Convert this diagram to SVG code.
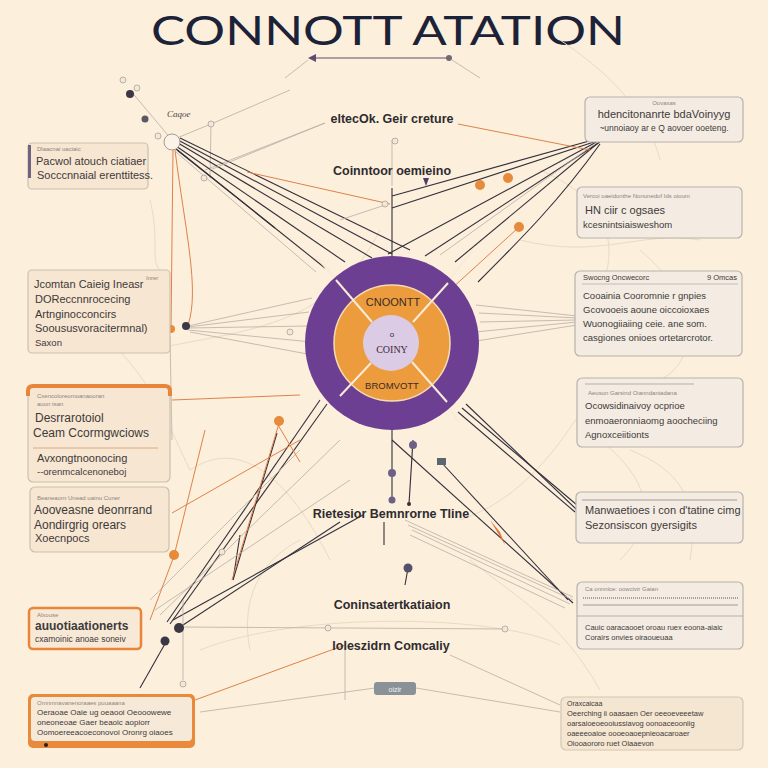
<svg xmlns="http://www.w3.org/2000/svg" width="768" height="768" viewBox="0 0 768 768">
<defs>
<style>
.bgc{fill:none;stroke:#e9dbc4;stroke-width:1}
.dk{fill:none;stroke:#33303c;stroke-width:1.1}
.gr{fill:none;stroke:#b7aea4;stroke-width:0.8}
.or{fill:none;stroke:#e0804a;stroke-width:1}
.lb{fill:#f7e6d1;stroke:#cdbfae;stroke-width:1.2}
.rb{fill:#f4ece2;stroke:#b8b2aa;stroke-width:1.2}
.t{font-family:"Liberation Sans",Arial,sans-serif;fill:#3d3a3a}
.tiny{font-size:6px;fill:#8a8580}
.s{font-size:9.5px}
.m{font-size:11px}
.c{font-family:"Liberation Sans",Arial,sans-serif;font-size:12.5px;font-weight:bold;fill:#2e2b2f;text-anchor:middle}
.dot{fill:#3a3845}
.odot{fill:#e68a3c}
.gdot{fill:#f3e8d8;stroke:#a9a29a;stroke-width:0.8}
</style>
</defs>
<rect width="768" height="768" fill="#fcefdc"/>

<text x="388" y="45" text-anchor="middle" font-family="Lato,'Liberation Sans',sans-serif" font-weight="400" font-size="40" fill="#1c2238" textLength="474" lengthAdjust="spacingAndGlyphs">CONNOTT ATATION</text>

<g id="connectors">
<path class="bgc" d="M150,350 C240,330 330,330 380,230"/>
<path class="bgc" d="M460,520 C520,500 560,450 600,380"/>
<path class="bgc" d="M190,470 C250,430 300,500 330,560"/>
<path class="bgc" d="M540,170 C610,200 630,250 585,320"/>
<path class="bgc" d="M600,440 C650,480 660,520 620,560"/>
<path class="bgc" d="M200,650 C300,610 500,615 560,645"/>
<path class="bgc" d="M95,330 C150,370 170,430 190,470"/>
<path class="bgc" d="M640,250 C700,300 700,360 660,380"/>
<path class="bgc" d="M520,240 C600,260 640,230 700,240"/>
<path class="bgc" d="M250,650 C240,600 260,560 300,540"/>
<path class="bgc" d="M470,560 C520,600 560,620 600,690"/>
<path class="bgc" d="M560,40 C620,80 650,120 660,160"/>
<path class="bgc" d="M150,200 C160,240 150,260 160,270"/>
<path class="bgc" d="M630,450 C680,470 700,500 690,560"/>
<line x1="312" y1="58" x2="449" y2="58" stroke="#5a4e6e" stroke-width="1.2"/>
<polygon points="308,58 316,54 316,62" fill="#5a4e6e"/>
<circle cx="449" cy="58" r="3" fill="#6e6a72"/>
<line class="gr" x1="308" y1="60" x2="285" y2="78"/>
<line class="gr" x1="452" y1="60" x2="480" y2="78"/>
<line class="gr" x1="130" y1="90" x2="172" y2="140"/>
<line class="gr" x1="172" y1="140" x2="211" y2="124"/>
<line class="gr" x1="211" y1="124" x2="290" y2="90"/>
<line class="gr" x1="205" y1="170" x2="325" y2="123"/>
<line class="gr" x1="211" y1="124" x2="210" y2="178"/>
<line class="dk" x1="178" y1="140" x2="392" y2="254"/>
<line class="dk" x1="178" y1="143" x2="372" y2="258"/>
<line class="dk" x1="176" y1="146" x2="345" y2="262"/>
<line class="dk" x1="175" y1="148" x2="325" y2="268"/>
<line class="dk" x1="177" y1="150" x2="275" y2="228"/>
<line class="dk" x1="180" y1="138" x2="410" y2="250"/>
<line class="gr" x1="176" y1="152" x2="316" y2="272"/>
<line class="or" x1="247" y1="172" x2="390" y2="204"/>
<line class="dk" x1="600" y1="138" x2="392" y2="196"/>
<line class="dk" x1="600" y1="140" x2="392" y2="208"/>
<line class="dk" x1="602" y1="139" x2="388" y2="254"/>
<line class="dk" x1="600" y1="142" x2="425" y2="256"/>
<line class="dk" x1="598" y1="143" x2="455" y2="262"/>
<path class="dk" d="M600,144 C560,200 520,240 478,282"/>
<line class="gr" x1="603" y1="138" x2="440" y2="255"/>
<line class="or" x1="458" y1="124" x2="590" y2="150"/>
<line class="or" x1="518" y1="228" x2="450" y2="290"/>
<line class="gr" x1="325" y1="123" x2="210" y2="170"/>
<line x1="392" y1="188" x2="392" y2="256" stroke="#33303c" stroke-width="1.1"/>
<line class="gr" x1="392" y1="140" x2="392" y2="186"/>
<circle class="gdot" cx="395" cy="141" r="3"/>
<line class="gr" x1="385" y1="205" x2="340" y2="220"/>
<circle class="gdot" cx="385" cy="204" r="3"/>
<path class="or" d="M173,150 L171,330"/>
<path class="or" d="M175,150 C185,230 200,290 188,325"/>
<line class="gr" x1="188" y1="326" x2="312" y2="298"/>
<line class="gr" x1="188" y1="327" x2="309" y2="312"/>
<line class="gr" x1="188" y1="328" x2="308" y2="326"/>
<line class="gr" x1="188" y1="330" x2="312" y2="342"/>
<line class="gr" x1="190" y1="332" x2="318" y2="356"/>
<line class="gr" x1="170" y1="336" x2="172" y2="440"/>
<line class="gr" x1="476" y1="305" x2="577" y2="316"/>
<line class="gr" x1="479" y1="313" x2="577" y2="318"/>
<line class="gr" x1="480" y1="322" x2="577" y2="320"/>
<line class="gr" x1="475" y1="332" x2="577" y2="322"/>
<line class="gr" x1="470" y1="342" x2="577" y2="325"/>
<line class="dk" x1="392" y1="428" x2="392" y2="502"/>
<line class="dk" x1="413" y1="440" x2="409" y2="504"/>
<circle cx="392" cy="473" r="4" fill="#6e5f86"/>
<circle cx="392" cy="500" r="3.5" fill="#6e5f86"/>
<circle cx="413" cy="445" r="4" fill="#6e5f86"/>
<circle cx="409" cy="504" r="2" fill="#33303c"/>
<line class="dk" x1="384" y1="522" x2="384" y2="545"/>
<line class="dk" x1="320" y1="400" x2="167" y2="622"/>
<line class="dk" x1="327" y1="404" x2="170" y2="624"/>
<line class="dk" x1="277" y1="433" x2="233" y2="580"/>
<line class="dk" x1="233" y1="580" x2="240" y2="535"/>
<line class="dk" x1="363" y1="515" x2="173" y2="620"/>
<line class="dk" x1="340" y1="522" x2="180" y2="627"/>
<line class="gr" x1="350" y1="480" x2="155" y2="610"/>
<line class="gr" x1="300" y1="450" x2="150" y2="600"/>
<line class="gr" x1="340" y1="440" x2="160" y2="615"/>
<line class="or" x1="280" y1="420" x2="232" y2="580"/>
<line class="or" x1="278" y1="425" x2="300" y2="462"/>
<line class="or" x1="205" y1="430" x2="174" y2="556"/>
<line class="or" x1="172" y1="400" x2="300" y2="395"/>
<line class="or" x1="172" y1="513" x2="300" y2="440"/>
<line class="or" x1="174" y1="556" x2="150" y2="620"/>
<line class="dk" x1="166" y1="642" x2="140" y2="688"/>
<line class="gr" x1="183" y1="680" x2="183" y2="600"/>
<line class="dk" x1="462" y1="408" x2="577" y2="505"/>
<line class="dk" x1="466" y1="404" x2="577" y2="510"/>
<line class="dk" x1="458" y1="412" x2="575" y2="512"/>
<line class="dk" x1="392" y1="440" x2="573" y2="603"/>
<line class="dk" x1="441" y1="462" x2="568" y2="600"/>
<rect x="437" y="458" width="9" height="7" fill="#5d6670"/>
<polygon points="490,520 500,532 505,545" fill="#e07b3a"/>
<line class="gr" x1="405" y1="520" x2="573" y2="597"/>
<line class="gr" x1="408" y1="525" x2="573" y2="600"/>
<line class="gr" x1="412" y1="530" x2="570" y2="604"/>
<line class="gr" x1="410" y1="535" x2="565" y2="608"/>
<line class="dk" x1="408" y1="568" x2="405" y2="585"/>
<circle cx="408" cy="568" r="4.5" fill="#55516a"/>
<line class="gr" x1="180" y1="627" x2="507" y2="629"/>
<circle class="gdot" cx="328" cy="628" r="3"/>
<circle class="gdot" cx="505" cy="629" r="3"/>
<line class="or" x1="195" y1="700" x2="345" y2="645"/>
<line class="gr" x1="200" y1="712" x2="375" y2="688"/>
<line class="gr" x1="416" y1="688" x2="560" y2="712"/>
<line class="gr" x1="450" y1="655" x2="560" y2="705"/>
<line class="gr" x1="345" y1="640" x2="345" y2="700"/>
<line x1="315" y1="255" x2="372" y2="322" stroke="#f8ecd8" stroke-width="2"/>
<line x1="418" y1="368" x2="460" y2="423" stroke="#f8ecd8" stroke-width="2"/>
<line x1="473" y1="250" x2="415" y2="322" stroke="#f8ecd8" stroke-width="2"/>
<line x1="370" y1="363" x2="340" y2="395" stroke="#f8ecd8" stroke-width="2"/>
</g>

<g id="center">
<circle cx="392" cy="343" r="87" fill="#6c3f92"/>
<circle cx="392" cy="343" r="58" fill="#ec9c3c" stroke="#f6dcb0" stroke-width="1.5"/>
<circle cx="391" cy="343" r="28" fill="#dccbe4"/>
<line x1="336" y1="280" x2="372" y2="322" stroke="#f8ecd8" stroke-width="2"/>
<line x1="448" y1="283" x2="413" y2="322" stroke="#f8ecd8" stroke-width="2"/>
<line x1="412" y1="362" x2="447" y2="402" stroke="#f8ecd8" stroke-width="2"/>
<line x1="371" y1="363" x2="340" y2="396" stroke="#f8ecd8" stroke-width="2"/>
<text x="393" y="306" text-anchor="middle" font-family="'Liberation Sans',Arial,sans-serif" font-size="11" fill="#3a2a2a">CNOONTT</text>
<text x="392" y="337" text-anchor="middle" font-family="'Liberation Sans',Arial,sans-serif" font-size="8" fill="#3a2a3a">o</text>
<text x="392" y="353" text-anchor="middle" font-family="'Liberation Serif',serif" font-size="10" fill="#3a2a3a">COINY</text>
<text x="392" y="389" text-anchor="middle" font-family="'Liberation Sans',Arial,sans-serif" font-size="9.5" fill="#3a2a2a">BROMVOTT</text>
</g>

<g id="hub-tl">
<circle cx="172" cy="142" r="8" fill="#fbf3e8" stroke="#a39c94" stroke-width="1"/>
<circle cx="130" cy="94" r="4" class="dot"/>
<circle cx="123" cy="80" r="3" class="gdot"/>
<circle cx="137" cy="88" r="3" class="gdot"/>
<circle cx="145" cy="119" r="3.5" fill="#5a5860"/>
<circle cx="158" cy="136" r="3" class="gdot"/>
<circle cx="211" cy="124" r="3" class="gdot"/>
<circle cx="204" cy="178" r="3" class="gdot"/>
<text x="167" y="117" font-family="'Liberation Serif',serif" font-style="italic" font-size="9" fill="#4a4548">Caqoe</text>
</g>

<g id="dots">
<circle cx="480" cy="185" r="5" class="odot"/>
<circle cx="508" cy="178" r="5" class="odot"/>
<circle cx="519" cy="227" r="5" class="odot"/>
<circle cx="279" cy="421" r="5" class="odot"/>
<circle cx="174" cy="555" r="5" class="odot"/>
<circle cx="171" cy="329" r="4" class="odot"/>
<circle cx="186" cy="326" r="4" class="dot"/>
<circle cx="179" cy="628" r="5" class="dot"/>
<circle cx="165" cy="641" r="4.5" class="dot"/>
<circle cx="183" cy="684" r="3" class="gdot"/>
<circle cx="290" cy="332" r="3" class="gdot"/>
<circle cx="222" cy="552" r="3" class="gdot"/>
</g>

<g id="box-l1">
<rect class="lb" x="28" y="143" width="120" height="46" rx="4"/>
<rect x="28" y="145" width="3" height="33" fill="#6e6480"/>
<text class="t tiny" x="37" y="151">Dlaacnai uaciaic</text>
<text class="t m" x="36" y="165">Pacwol  atouch  ciatiaer</text>
<text class="t m" x="37" y="179">Socccnnaial  erenttitess.</text>
</g>

<g id="box-l2">
<rect class="lb" x="28" y="270" width="142" height="83" rx="4"/>
<text class="t tiny" x="146" y="280">Inrer</text>
<text class="t m" x="34" y="288">Jcomtan Caieig Ineasr</text>
<text class="t m" x="35" y="303">DOReccnnrocecing</text>
<text class="t m" x="35" y="318">Artnginocconcirs</text>
<text class="t m" x="35" y="332">Sooususvoracitermnal)</text>
<text class="t s" x="35" y="346">Saxon</text>
</g>

<g id="box-l3">
<rect class="lb" x="28" y="386" width="142" height="96" rx="5"/>
<path d="M28,396 V391 Q28,386 33,386 H165 Q170,386 170,391 V396" fill="none" stroke="#e8853b" stroke-width="4"/>
<text class="t tiny" x="37" y="398">Cxencoloreomoanaooran</text>
<text class="t tiny" x="37" y="406">auon tsan</text>
<text class="t" x="35" y="422" font-size="12">Desrrarotoiol</text>
<text class="t" x="33" y="437" font-size="12">Ceam  Ccormgwciows</text>
<line x1="33" y1="448" x2="158" y2="448" stroke="#d99a72" stroke-width="0.8"/>
<text class="t m" x="37" y="462">Avxongtnoonocing</text>
<text class="t s" x="37" y="475">--orenmcalcenoneboj</text>
</g>

<g id="box-l4">
<rect class="lb" x="30" y="487" width="139" height="65" rx="5"/>
<text class="t tiny" x="37" y="500">Beaneaorn Unead uainu Cuner</text>
<text class="t" x="34" y="514" font-size="12">Aooveasne deonrrand</text>
<text class="t" x="34" y="529" font-size="12">Aondirgrig orears</text>
<text class="t m" x="35" y="542">Xoecnpocs</text>
</g>

<g id="box-l5">
<rect x="29" y="608" width="112" height="41" rx="4" fill="#f8e9d6" stroke="#e8853b" stroke-width="2.5"/>
<text class="t tiny" x="37" y="617">Alxouse</text>
<text class="t" x="35" y="630" font-size="12" font-weight="bold">auuotiaationerts</text>
<text class="t" x="35" y="642" font-size="8.5">cxamoinic anoae soneiv</text>
</g>

<g id="box-l6">
<rect x="28" y="694" width="167" height="54" rx="5" fill="#e8893c"/>
<rect x="31" y="697" width="161" height="44" rx="4" fill="#f7e9d7"/>
<text class="t tiny" x="37" y="705">Omnmnavanenoraaes puuaaana</text>
<text class="t" x="37" y="715" font-size="8" fill="#6a6560">Oeraoae Oaie ug oeaooi Oeooowewe</text>
<text class="t" x="37" y="725" font-size="8" fill="#6a6560">oneoneoae Gaer beaoic aopiorr</text>
<text class="t" x="37" y="735" font-size="8" fill="#6a6560">Oomoereeacoeconovoi Oronrg oiaoes</text>
<circle cx="46" cy="745" r="2" fill="#222"/>
</g>

<g id="box-r1">
<rect class="rb" x="585" y="97" width="158" height="45" rx="5" fill="#f3e6d4"/>
<text class="t tiny" x="664" y="105" text-anchor="middle">Oovaxas</text>
<text class="t m" x="664" y="118" text-anchor="middle">hdencitonanrte bdaVoinyyg</text>
<text class="t" x="664" y="131" text-anchor="middle" font-size="8.5">~unnoiaoy  ar e Q  aovoer ooeteng.</text>
</g>

<g id="box-r2">
<rect class="rb" x="577" y="187" width="165" height="51" rx="5"/>
<text class="t tiny" x="583" y="198">Vercoi oaeidonthe Nonunedof Ids oioum</text>
<text class="t m" x="585" y="214">HN ciir c ogsaes</text>
<text class="t s" x="583" y="228">kcesnintsiaisweshom</text>
</g>

<g id="box-r3">
<rect class="rb" x="575" y="271" width="167" height="85" rx="5"/>
<text class="t" x="583" y="280" font-size="7.5" fill="#6a6560">Swocng Oncwecorc</text>
<text class="t" x="737" y="280" font-size="7.5" fill="#6a6560" text-anchor="end">9 Omcas</text>
<line x1="582" y1="284" x2="738" y2="284" stroke="#b8b2aa" stroke-width="0.8"/>
<text class="t s" x="583" y="299">Cooainia  Cooromnie r gnpies</text>
<text class="t s" x="583" y="313">Gcovooeis  aoune  oiccoioxaes</text>
<text class="t s" x="583" y="327">Wuonogiiaiing ceie. ane som.</text>
<text class="t s" x="583" y="341">casgiones  onioes  ortetarcrotor.</text>
</g>

<g id="box-r4">
<rect class="rb" x="577" y="378" width="166" height="69" rx="5"/>
<line x1="585" y1="384" x2="694" y2="384" stroke="#a8a29a" stroke-width="0.8"/>
<text class="t tiny" x="588" y="395">Aeuson Garsind Oianndaniadana</text>
<text class="t s" x="585" y="409">Ocowsidinaivoy ocprioe</text>
<text class="t s" x="585" y="424">enmoaeronniaomg aoocheciing</text>
<text class="t s" x="585" y="438">Agnoxceiitionts</text>
</g>

<g id="box-r5">
<rect class="rb" x="576" y="492" width="167" height="51" rx="5"/>
<line x1="582" y1="500" x2="737" y2="500" stroke="#8e8880" stroke-width="0.8"/>
<text class="t m" x="585" y="514">Manwaetioes i con  d'tatine cimg</text>
<text class="t m" x="585" y="529">Sezonsiscon gyersigits</text>
</g>

<g id="box-r6">
<rect class="rb" x="577" y="582" width="166" height="67" rx="5"/>
<text class="t tiny" x="585" y="591">Ca onnnice: oowcivir Gaian</text>
<line x1="583" y1="598" x2="738" y2="598" stroke="#a8a29a" stroke-width="2" stroke-dasharray="1,1"/>
<line x1="583" y1="605" x2="738" y2="605" stroke="#8e8880" stroke-width="0.8"/>
<line x1="577" y1="616" x2="743" y2="616" stroke="#a8a29a" stroke-width="0.8"/>
<text class="t" x="585" y="630" font-size="7.5" fill="#5a5550">Cauic oaracaooet oroau  ruex eoona-aiaic</text>
<text class="t" x="585" y="640" font-size="7.5" fill="#5a5550">Corairs  onvies  oiraoueuaa</text>
</g>

<g id="box-r7">
<rect x="561" y="697" width="182" height="53" rx="5" fill="#f5e6d1" stroke="#d2c6b6" stroke-width="1.2"/>
<text class="t" x="567" y="706" font-size="7" fill="#7a7570">Oraxcaicaa</text>
<text class="t" x="567" y="716" font-size="7.5" fill="#7a7570">Oeerching ii  oaasaen Oer oeeoeveeetaw</text>
<text class="t" x="567" y="726" font-size="7.5" fill="#7a7570">oarsaioeoeooiussiavog oonoaceooniig</text>
<text class="t" x="567" y="736" font-size="7.5" fill="#7a7570">oaeeeoaioe oooeoaoepnieoacaroaer</text>
<text class="t" x="567" y="746" font-size="7.5" fill="#7a7570">Oiooaororo ruet Oiaaevon</text>
</g>

<g id="labels">
<text class="c" x="392" y="123">eltecOk. Geir creture</text>
<text class="c" x="392" y="175">Coinntoor oemieino</text>
<polygon points="423,178 429,178 426,186" fill="#4a3f6a"/>
<text class="c" x="391" y="518">Rietesior  Bemnrorne  Tline</text>
<text class="c" x="392" y="609">Coninsatertkatiaion</text>
<text class="c" x="391" y="650">loleszidrn  Comcaliy</text>
</g>

<g id="pill">
<rect x="374" y="682" width="42" height="13" rx="3" fill="#8b9297"/>
<text x="395" y="691.5" text-anchor="middle" font-family="'Liberation Sans',Arial,sans-serif" font-size="7" fill="#f2f2f2">oizir</text>
</g>
</svg>
